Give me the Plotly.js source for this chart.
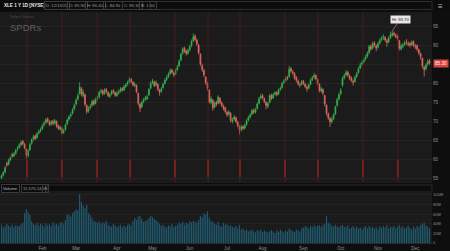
<!DOCTYPE html>
<html><head><meta charset="utf-8">
<script src="https://cdn.plot.ly/plotly-3.0.1.min.js"></script>
<style>html,body{margin:0;padding:0;background:#0e0e0e;}#c{width:450px;height:251px;}</style>
</head><body><div id="c"></div>
<script>
// XLE daily bars, Dec 29 2021 .. Dec 13 2022 (trading-day index)
const openP=[55.2,55.9,56.7,59.0,58.8,59.9,61.3,61.0,61.6,62.8,
63.2,63.9,64.8,64.1,62.8,61.0,62.6,64.3,65.4,66.2,
65.8,67.0,67.6,68.1,69.2,69.8,70.7,70.0,69.3,70.1,
69.6,70.0,68.9,68.0,68.3,67.1,67.9,69.4,70.6,71.5,
72.2,73.3,74.6,75.9,77.3,78.6,76.8,77.0,74.2,72.8,
73.6,74.3,75.4,74.8,75.9,76.5,77.8,78.1,77.4,78.4,
77.6,76.6,77.2,78.1,77.6,76.8,77.5,78.0,78.7,78.3,
79.2,79.8,80.4,81.1,80.3,79.4,79.5,77.4,74.5,73.9,
75.2,75.8,76.0,77.0,78.8,80.2,80.4,79.6,79.8,78.3,
77.9,78.9,80.0,81.0,81.8,82.6,83.5,82.8,82.4,83.6,
84.6,86.1,87.9,89.2,88.5,87.9,88.8,89.9,91.2,92.4,
91.3,90.0,87.6,84.6,83.4,81.6,80.0,78.2,75.0,75.6,
73.8,75.1,74.8,76.1,74.9,74.0,73.6,72.4,71.9,72.2,
70.0,70.6,71.0,69.8,68.8,67.9,68.7,68.3,69.2,70.4,
71.2,71.9,73.0,72.5,73.4,74.8,76.2,76.8,76.0,75.0,
74.0,75.0,76.9,76.2,77.2,77.6,77.2,78.4,78.9,80.2,
80.8,81.6,81.8,83.9,83.0,82.6,81.6,80.6,79.7,79.8,
80.6,79.8,79.0,78.8,79.8,81.0,81.7,82.1,81.0,79.8,
78.0,78.4,76.8,74.3,72.0,70.8,70.0,70.8,72.0,74.2,
75.9,77.3,79.5,81.5,82.2,83.0,82.0,81.4,80.6,80.5,
81.8,82.8,84.0,85.0,85.6,86.4,87.1,88.0,89.8,89.3,
90.6,89.8,89.5,90.6,91.4,92.0,92.0,91.2,90.9,92.0,
92.6,93.2,92.6,92.5,91.2,89.0,89.6,90.2,90.8,90.5,
90.4,90.1,91.0,89.8,89.9,88.8,87.8,86.6,84.2,83.8,
85.0,85.9];
const highP=[56.2,57.0,58.3,59.4,60.3,60.9,61.8,62.0,62.8,63.5,
64.3,65.0,65.2,64.4,63.0,62.8,64.4,65.6,66.5,66.6,
67.2,67.9,68.4,69.3,70.1,70.9,71.1,70.3,70.4,70.5,
70.7,70.3,69.2,69.0,68.6,68.1,69.5,70.8,71.7,72.4,
73.5,74.7,76.1,77.4,80.3,79.1,78.4,77.3,74.5,74.0,
74.6,75.7,75.8,76.3,76.8,78.0,78.6,78.4,78.7,78.8,
77.9,77.5,78.3,78.5,77.9,77.9,78.4,79.0,79.0,79.6,
80.1,80.7,81.6,81.4,80.6,80.3,79.7,77.6,74.9,75.5,
76.2,76.7,77.0,78.8,80.5,81.2,80.7,80.8,80.0,78.6,
79.1,80.2,81.3,82.1,82.9,83.9,83.8,83.1,83.8,84.8,
86.3,88.0,89.5,89.6,88.9,89.1,90.1,91.5,93.1,92.8,
91.8,90.3,87.9,85.2,83.8,81.9,80.4,78.5,76.6,75.9,
75.3,75.5,76.9,76.4,75.3,74.4,73.9,72.8,73.0,72.4,
71.0,71.7,71.3,70.2,69.1,69.2,69.0,69.5,70.6,71.5,
72.2,73.3,73.4,73.6,75.0,76.5,77.3,77.2,76.3,75.3,
75.2,77.2,77.3,77.5,78.0,77.9,78.6,79.2,80.4,81.1,
81.8,82.0,84.6,84.3,83.5,82.9,81.9,81.0,80.2,80.9,
80.9,80.1,79.4,80.0,81.3,82.0,82.8,82.4,81.3,80.0,
79.1,78.7,77.0,74.5,72.4,71.2,71.2,72.2,74.2,76.2,
77.5,78.8,81.8,82.6,83.5,83.3,82.4,81.8,81.0,82.0,
83.0,84.3,85.4,86.0,86.7,87.5,88.4,90.1,90.2,91.0,
91.0,90.2,90.9,91.8,92.4,92.9,92.4,91.6,92.3,93.5,
93.7,93.6,93.1,92.8,91.4,90.4,90.6,91.2,91.6,91.0,
90.9,91.3,91.2,90.3,90.2,89.1,88.1,86.8,84.6,85.3,
86.3,86.4];
const lowP=[54.9,55.6,56.5,58.1,58.5,59.6,60.5,60.7,61.3,62.2,
62.9,63.5,63.8,62.7,60.2,60.6,62.3,63.9,65.0,65.1,
65.5,66.6,67.1,67.8,68.7,69.4,69.6,68.8,68.9,69.0,
69.2,68.4,67.8,67.6,66.6,66.8,67.6,69.0,70.2,71.0,
71.8,72.9,74.2,75.5,77.0,76.6,76.3,74.0,72.0,72.3,
73.2,73.9,74.1,74.5,75.5,76.1,77.3,76.8,77.0,77.3,
76.4,76.2,76.9,77.3,76.5,76.5,77.1,77.6,77.8,78.0,
78.8,79.4,80.0,80.0,79.2,79.0,77.4,74.2,72.5,73.5,
74.8,75.4,75.6,76.7,78.4,79.8,79.0,79.2,78.0,76.8,
77.5,78.6,79.7,80.6,81.4,82.2,82.5,81.7,82.1,83.2,
84.3,85.8,87.5,88.0,87.3,87.5,88.4,89.5,90.8,91.0,
89.8,87.5,84.5,83.0,81.6,79.6,78.1,74.7,74.5,72.8,
73.4,74.0,74.5,74.6,73.8,72.9,72.1,71.2,71.5,69.8,
69.5,70.2,69.6,68.5,66.6,67.4,67.7,67.9,68.9,70.0,
70.8,71.6,72.0,72.1,73.1,74.5,75.8,75.8,74.8,73.2,
73.5,74.8,75.6,75.9,76.8,76.6,76.9,78.0,78.6,79.8,
80.4,80.8,81.5,82.8,82.2,81.0,80.3,79.4,78.9,79.4,
79.6,78.7,77.8,78.4,79.5,80.6,81.2,80.8,79.5,77.6,
77.6,76.9,74.0,71.6,70.4,68.6,69.5,70.4,71.7,73.9,
75.5,76.9,79.1,81.0,81.8,81.7,80.8,80.3,79.4,80.2,
81.4,82.5,83.7,84.6,85.2,86.0,86.7,87.7,88.5,88.9,
89.5,88.4,89.1,90.2,91.0,91.4,90.9,89.6,90.5,91.6,
92.2,92.3,91.8,91.2,88.6,88.6,89.2,89.8,90.1,89.7,
89.4,89.8,89.5,89.0,88.4,87.4,86.2,83.9,81.8,83.4,
84.6,84.9];
const closeP=[55.8,56.6,57.9,58.6,59.8,60.4,61.0,61.5,62.4,63.0,
63.8,64.5,64.2,63.1,61.2,62.4,64.0,65.2,66.0,65.5,
66.8,67.4,67.9,68.9,69.6,70.5,70.1,69.2,69.8,69.5,
70.2,68.8,68.2,68.5,67.0,67.6,69.1,70.4,71.2,71.8,
73.0,74.2,75.6,76.8,79.0,77.2,77.7,74.5,72.6,73.4,
74.0,75.2,74.6,75.8,76.2,77.6,78.0,77.2,78.2,77.8,
76.8,77.0,77.9,77.7,76.9,77.4,77.9,78.5,78.2,79.1,
79.6,80.2,81.0,80.4,79.6,79.8,77.8,74.8,73.5,75.0,
75.6,76.2,76.5,78.4,80.0,80.6,79.4,80.2,78.5,77.7,
78.6,79.8,80.8,81.6,82.4,83.3,82.9,82.2,83.4,84.2,
85.8,87.6,89.0,88.4,87.8,88.6,89.6,91.0,92.2,91.5,
90.3,88.0,85.0,83.6,82.2,80.2,78.7,75.2,76.0,73.6,
74.8,74.5,76.4,75.0,74.2,73.4,72.6,71.8,72.5,70.4,
70.4,71.2,70.0,69.0,67.8,68.6,68.2,69.0,70.2,71.0,
71.7,72.8,72.4,73.1,74.6,76.0,76.6,76.2,75.2,74.2,
74.7,76.8,76.0,77.0,77.5,77.0,78.2,78.7,80.0,80.6,
81.3,81.3,83.7,83.2,82.8,81.4,80.8,79.9,79.6,80.4,
80.0,79.2,78.6,79.6,80.8,81.5,82.0,81.2,80.0,78.2,
78.6,77.5,74.6,72.2,71.0,69.9,70.6,71.7,73.8,75.7,
77.0,78.2,81.3,82.0,82.8,82.2,81.3,80.8,80.3,81.6,
82.5,83.8,84.8,85.4,86.1,86.9,87.8,89.6,89.0,90.4,
90.0,89.2,90.4,91.2,91.8,92.1,91.4,90.7,91.8,92.7,
93.0,92.8,92.3,91.7,89.2,89.8,90.0,90.6,90.7,90.2,
90.0,90.8,90.0,89.6,89.0,88.0,87.0,84.5,83.6,84.8,
85.8,85.3];
// volume in millions of shares
const volumeM=[38,32,35,40,36,34,38,33,37,35,
36,39,42,62,70,64,58,45,40,38,
42,36,40,38,34,41,37,39,35,43,
38,40,36,42,44,39,48,60,58,55,
62,66,70,68,102,86,78,72,80,62,
58,52,46,44,42,45,40,43,41,46,
38,36,34,40,37,33,35,38,32,36,
34,38,40,36,46,52,48,55,56,50,
44,46,48,52,56,54,50,48,44,40,
36,38,34,32,37,35,40,33,36,38,
42,40,44,38,42,40,45,43,46,44,
42,48,56,54,62,60,66,52,46,44,
40,38,44,36,34,42,38,40,35,37,
34,32,36,30,38,28,30,26,28,24,
26,28,24,22,27,25,28,23,26,24,
22,25,27,24,21,26,23,28,25,22,
26,24,30,27,25,23,28,26,24,30,
32,35,34,30,36,33,38,34,36,37,
34,38,40,56,42,40,36,34,38,35,
32,36,38,34,33,37,30,32,35,31,
34,30,32,28,33,35,30,36,32,34,
30,33,28,35,31,36,32,38,30,34,
33,36,30,34,38,32,35,30,33,36,
31,28,34,30,36,33,38,40,42,36,
34,30];
const monthTickIdx=[23,42,65,85,106,127,147,170,191,212,233];
const monthLabels=["Feb","Mar","Apr","May","Jun","Jul","Aug","Sep","Oct","Nov","Dec"];
const priceTicks=[55,60,65,70,75,80,85,90,95];
const volTicks=[0,20,40,60,80,100];
const volLabels=["0","20M","40M","60M","80M","100M"];
const headerFields=["D: 12/13/22","O: 85.90","H: 86.40","L: 84.90","C: 85.30","R: 1.50"];
const markerIdx=[14.4,34,53.8,72.4,97.7,116.3,134.3,159.6,178.2,203.5,223.2];

const idx=closeP.map((_,i)=>i);
const PW=432, TOP=12, BOT=243, PH=BOT-TOP;
const fy=Y=>(BOT-Y)/PH, fx=X=>X/PW;
const mainDom=[fy(183),1], volDom=[0,fy(193)];
const last=closeP[closeP.length-1];

const shapes=[];
const ann=[];
shapes.push({type:'rect',xref:'paper',yref:'paper',x0:0,x1:fx(450),y0:fy(11),y1:fy(0),fillcolor:'#0c0c0c',line:{width:0},layer:'below'});
shapes.push({type:'rect',xref:'paper',yref:'paper',x0:fx(150),x1:fx(432),y0:fy(9.5),y1:fy(1.5),fillcolor:'rgba(0,0,0,0)',line:{color:'#2e2e2e',width:1}});
shapes.push({type:'rect',xref:'paper',yref:'paper',x0:0,x1:1,y0:fy(193),y1:fy(183.5),fillcolor:'#0c0c0c',line:{width:0}});
shapes.push({type:'rect',xref:'paper',yref:'paper',x0:fx(47),x1:fx(432),y0:fy(192),y1:fy(185),fillcolor:'rgba(0,0,0,0)',line:{color:'#2a2a2a',width:1}});
markerIdx.forEach(m=>{
  shapes.push({type:'line',xref:'x',yref:'paper',x0:m,x1:m,y0:mainDom[0],y1:1,line:{color:'rgba(105,28,28,0.6)',width:1}});
  shapes.push({type:'line',xref:'x',yref:'paper',x0:m,x1:m,y0:fy(177),y1:fy(160),line:{color:'rgba(140,35,35,0.75)',width:2}});
});
const F='Liberation Sans, Arial';
ann.push({xref:'paper',yref:'paper',x:fx(2),y:fy(5.5),xanchor:'left',yanchor:'middle',text:'<b>XLE 1 Y 1D [NYSE]</b>',showarrow:false,font:{size:4.6,color:'#e8e8e8',family:F}});
const hx=[44,67,85,103,122,139];
headerFields.forEach((t,k)=>{
  ann.push({xref:'paper',yref:'paper',x:fx(hx[k]),y:fy(5.5),xanchor:'left',yanchor:'middle',text:t,showarrow:false,bordercolor:'#3a3a3a',borderwidth:1,borderpad:1,font:{size:4.2,color:'#9c9c9c',family:F}});
});
ann.push({xref:'paper',yref:'paper',x:fx(441),y:fy(6),xanchor:'center',yanchor:'middle',text:'≡',showarrow:false,font:{size:8,color:'#bbbbbb'}});
ann.push({xref:'paper',yref:'paper',x:fx(8),y:fy(16.5),xanchor:'left',yanchor:'middle',text:'Select Sector',showarrow:false,font:{size:4,color:'#4e4e4e',family:F}});
ann.push({xref:'paper',yref:'paper',x:fx(8),y:fy(27),xanchor:'left',yanchor:'middle',text:'SPDRs',showarrow:false,font:{size:9.5,color:'#5e5e5e',family:F}});
let hiI=0; highP.forEach((v,i)=>{if(v>highP[hiI])hiI=i;});
ann.push({x:hiI,y:highP[hiI],xref:'x',yref:'y',text:'Hi: '+highP[hiI].toFixed(2),showarrow:true,arrowhead:0,arrowwidth:0.6,arrowcolor:'#aaaaaa',ax:8,ay:-12,bgcolor:'#e6e6e6',borderpad:1,font:{size:4.2,color:'#222',family:F}});
ann.push({xref:'paper',yref:'y',x:1.003,y:last,xanchor:'left',yanchor:'middle',text:last.toFixed(2),showarrow:false,bgcolor:'#d9443f',borderpad:1,font:{size:4.6,color:'#ffffff',family:F}});
ann.push({xref:'paper',yref:'paper',x:fx(1),y:fy(188.5),xanchor:'left',yanchor:'middle',text:'Volume',showarrow:false,bordercolor:'#3a3a3a',borderwidth:1,borderpad:1,font:{size:4.2,color:'#bdbdbd',family:F}});
ann.push({xref:'paper',yref:'paper',x:fx(20.5),y:fy(188.5),xanchor:'left',yanchor:'middle',text:'11,576,143',showarrow:false,bordercolor:'#3a3a3a',borderwidth:1,borderpad:1,font:{size:4.2,color:'#9c9c9c',family:F}});
ann.push({xref:'paper',yref:'paper',x:fx(41.5),y:fy(188.5),xanchor:'left',yanchor:'middle',text:'H',showarrow:false,bordercolor:'#3a3a3a',borderwidth:1,borderpad:1,font:{size:4.2,color:'#9c9c9c',family:F}});

const data=[
 {type:'candlestick',x:idx,open:openP,high:highP,low:lowP,close:closeP,xaxis:'x',yaxis:'y',whiskerwidth:0,
  increasing:{line:{color:'#35b24c',width:0.8},fillcolor:'#35b24c'},
  decreasing:{line:{color:'#e0675f',width:0.8},fillcolor:'#e0675f'},hoverinfo:'skip'},
 {type:'bar',x:idx,y:volumeM,xaxis:'x2',yaxis:'y2',marker:{color:'#1f5b70',line:{width:0}},hoverinfo:'skip'}
];
const tickFont={size:4.6,color:'#8e8e8e',family:F};
const layout={
 width:450,height:251,margin:{l:0,r:18,t:TOP,b:251-BOT,pad:0},
 paper_bgcolor:'#0e0e0e',plot_bgcolor:'#1b1b1b',showlegend:false,bargap:0.35,
 xaxis:{domain:[0,1],range:[-0.85,242.4],anchor:'y',showticklabels:false,showgrid:false,zeroline:false,rangeslider:{visible:false},fixedrange:true},
 yaxis:{domain:mainDom,range:[53.9,98.7],side:'right',tickvals:priceTicks,
   ticktext:priceTicks.map(v=>Math.abs(v-last)<2.5?'':String(v)),tickfont:tickFont,gridcolor:'#242424',gridwidth:1,zeroline:false,ticks:'',fixedrange:true},
 xaxis2:{domain:[0,1],range:[-0.85,242.4],anchor:'y2',tickvals:monthTickIdx,ticktext:monthLabels,tickfont:tickFont,showgrid:false,zeroline:false,ticks:'',fixedrange:true,showline:true,linecolor:'#2a2a2a'},
 yaxis2:{domain:volDom,range:[0,104],side:'right',tickvals:volTicks,ticktext:volLabels,tickfont:{size:4,color:'#8e8e8e',family:F},gridcolor:'#222222',zeroline:false,ticks:'',fixedrange:true},
 shapes:shapes,annotations:ann
};
Plotly.newPlot('c',data,layout,{displayModeBar:false,staticPlot:true});
</script></body></html>
